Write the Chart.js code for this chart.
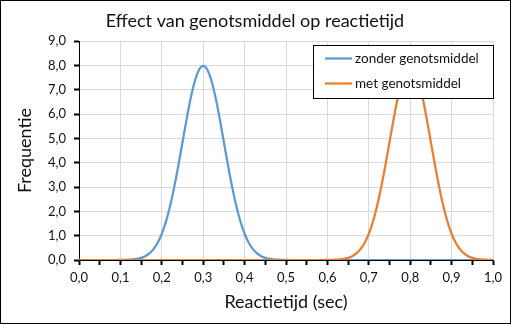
<!DOCTYPE html>
<html>
<head>
<meta charset="utf-8">
<script src="https://cdn.jsdelivr.net/npm/chart.js@4"></script>
<style>
html,body{margin:0;padding:0;background:#fff;}
#wrap{position:relative;width:511px;height:324px;}
canvas{display:block;}
</style>
</head>
<body>
<div id="wrap"><canvas id="c" width="511" height="324"></canvas></div>
<script>
const chartTitle = "Effect van genotsmiddel op reactietijd";
const xTitle = "Reactietijd (sec)";
const yTitle = "Frequentie";
const seriesNames = ["zonder genotsmiddel", "met genotsmiddel"];

const reactietijd = [0.00,0.01,0.02,0.03,0.04,0.05,0.06,0.07,0.08,0.09,
0.10,0.11,0.12,0.13,0.14,0.15,0.16,0.17,0.18,0.19,
0.20,0.21,0.22,0.23,0.24,0.25,0.26,0.27,0.28,0.29,
0.30,0.31,0.32,0.33,0.34,0.35,0.36,0.37,0.38,0.39,
0.40,0.41,0.42,0.43,0.44,0.45,0.46,0.47,0.48,0.49,
0.50,0.51,0.52,0.53,0.54,0.55,0.56,0.57,0.58,0.59,
0.60,0.61,0.62,0.63,0.64,0.65,0.66,0.67,0.68,0.69,
0.70,0.71,0.72,0.73,0.74,0.75,0.76,0.77,0.78,0.79,
0.80,0.81,0.82,0.83,0.84,0.85,0.86,0.87,0.88,0.89,
0.90,0.91,0.92,0.93,0.94,0.95,0.96,0.97,0.98,0.99,1.00];

const zonderGenotsmiddel = [0,0,0,0,0,0,0,0,0,0,
0.003,0.006,0.012,0.025,0.048,0.089,0.158,0.272,0.448,0.709,
1.080,1.579,2.218,2.995,3.884,4.839,5.794,6.664,7.365,7.821,
7.979,7.821,7.365,6.664,5.794,4.839,3.884,2.995,2.218,1.579,
1.080,0.709,0.448,0.272,0.158,0.089,0.048,0.025,0.012,0.006,
0.003,0,0,0,0,0,0,0,0,0,
0,0,0,0,0,0,0,0,0,0,
0,0,0,0,0,0,0,0,0,0,
0,0,0,0,0,0,0,0,0,0,
0,0,0,0,0,0,0,0,0,0,0];

const metGenotsmiddel = [0,0,0,0,0,0,0,0,0,0,
0,0,0,0,0,0,0,0,0,0,
0,0,0,0,0,0,0,0,0,0,
0,0,0,0,0,0,0,0,0,0,
0,0,0,0,0,0,0,0,0,0,
0,0,0,0,0,0,0,0,0,0,
0.003,0.006,0.012,0.025,0.048,0.089,0.158,0.272,0.448,0.709,
1.080,1.579,2.218,2.995,3.884,4.839,5.794,6.664,7.365,7.821,
7.979,7.821,7.365,6.664,5.794,4.839,3.884,2.995,2.218,1.579,
1.080,0.709,0.448,0.272,0.158,0.089,0.048,0.025,0.012,0.006,0.003];

const xMin = 0, xMax = 1, xStep = 0.05;
const yMin = 0, yMax = 9, yStep = 1;

const FONT = "Lato, 'Open Sans', sans-serif";
const BLUE = "#5B9BD5", ORANGE = "#ED7D31";

function toPoints(xs, ys){ return xs.map((x,i)=>({x:x, y:ys[i]})); }
function fmt(v){ return v.toFixed(1).replace('.', ','); }

const decor = {
  id: 'decor',
  afterDraw(chart){
    const ctx = chart.ctx;
    ctx.save();
    // title
    ctx.fillStyle = '#111';
    ctx.font = "18px " + FONT;
    ctx.textAlign = 'center';
    ctx.textBaseline = 'middle';
    ctx.fillText(chartTitle, 255, 21);
    // legend box
    const bx = 313.5, by = 45.5, bw = 180, bh = 53;
    ctx.fillStyle = '#fff';
    ctx.fillRect(bx, by, bw, bh);
    ctx.strokeStyle = '#000';
    ctx.lineWidth = 1;
    ctx.strokeRect(bx, by, bw, bh);
    const rows = [58.5, 83.5];
    chart.data.datasets.slice().sort((a,b)=>a.legendIndex-b.legendIndex).forEach((ds, i)=>{
      const y = rows[i];
      ctx.strokeStyle = ds.borderColor;
      ctx.lineWidth = 2.25;
      ctx.beginPath(); ctx.moveTo(325, y); ctx.lineTo(352, y); ctx.stroke();
      ctx.fillStyle = '#111';
      ctx.font = "13.5px " + FONT;
      ctx.textAlign = 'left';
      ctx.textBaseline = 'middle';
      ctx.fillText(ds.label, 355, y);
    });
    // outer border
    ctx.strokeStyle = '#000';
    ctx.lineWidth = 1;
    ctx.strokeRect(0.5, 0.5, chart.width - 1, chart.height - 1);
    ctx.restore();
  }
};

new Chart(document.getElementById('c'), {
  type: 'line',
  data: {
    datasets: [
      { label: seriesNames[1], legendIndex: 1, data: toPoints(reactietijd, metGenotsmiddel),
        borderColor: ORANGE, backgroundColor: ORANGE, borderWidth: 2.25, pointRadius: 0,
        cubicInterpolationMode: 'monotone', fill: false, order: 0 },
      { label: seriesNames[0], legendIndex: 0, data: toPoints(reactietijd, zonderGenotsmiddel),
        borderColor: BLUE, backgroundColor: BLUE, borderWidth: 2.25, pointRadius: 0,
        cubicInterpolationMode: 'monotone', fill: false, order: 1 }
    ]
  },
  options: {
    responsive: false,
    animation: false,
    events: [],
    layout: { padding: { top: 41, right: 18, left: 0, bottom: 0 } },
    plugins: { legend: { display: false }, title: { display: false }, tooltip: { enabled: false } },
    scales: {
      x: {
        type: 'linear', min: xMin, max: xMax,
        afterFit(s){ s.height = 64; },
        border: { display: true, color: '#000', width: 1 },
        grid: {
          color: c => (Math.round(c.tick.value * 20) % 2 === 0) ? '#d9d9d9' : 'rgba(0,0,0,0)',
          tickColor: '#000', tickLength: 5, tickWidth: 2, lineWidth: 1
        },
        ticks: {
          stepSize: xStep, autoSkip: false, maxRotation: 0, padding: 5,
          color: '#111', font: { family: FONT, size: 13 },
          callback: v => (Math.round(v * 20) % 2 === 0) ? fmt(v) : ''
        },
        title: { display: true, text: xTitle, color: '#111', font: { family: FONT, size: 18 },
                 padding: { top: 0, bottom: 11 } }
      },
      y: {
        type: 'linear', min: yMin, max: yMax,
        afterFit(s){ s.width = 79; },
        border: { display: true, color: '#000', width: 1 },
        grid: { color: '#d9d9d9', tickColor: '#000', tickLength: 5, tickWidth: 2, lineWidth: 1 },
        ticks: { stepSize: yStep, padding: 8, color: '#111', font: { family: FONT, size: 13 },
                 callback: v => fmt(v) },
        title: { display: true, text: yTitle, color: '#111', font: { family: FONT, size: 18 },
                 padding: { top: 14, bottom: 0 } }
      }
    }
  },
  plugins: [decor]
});
</script>
</body>
</html>
